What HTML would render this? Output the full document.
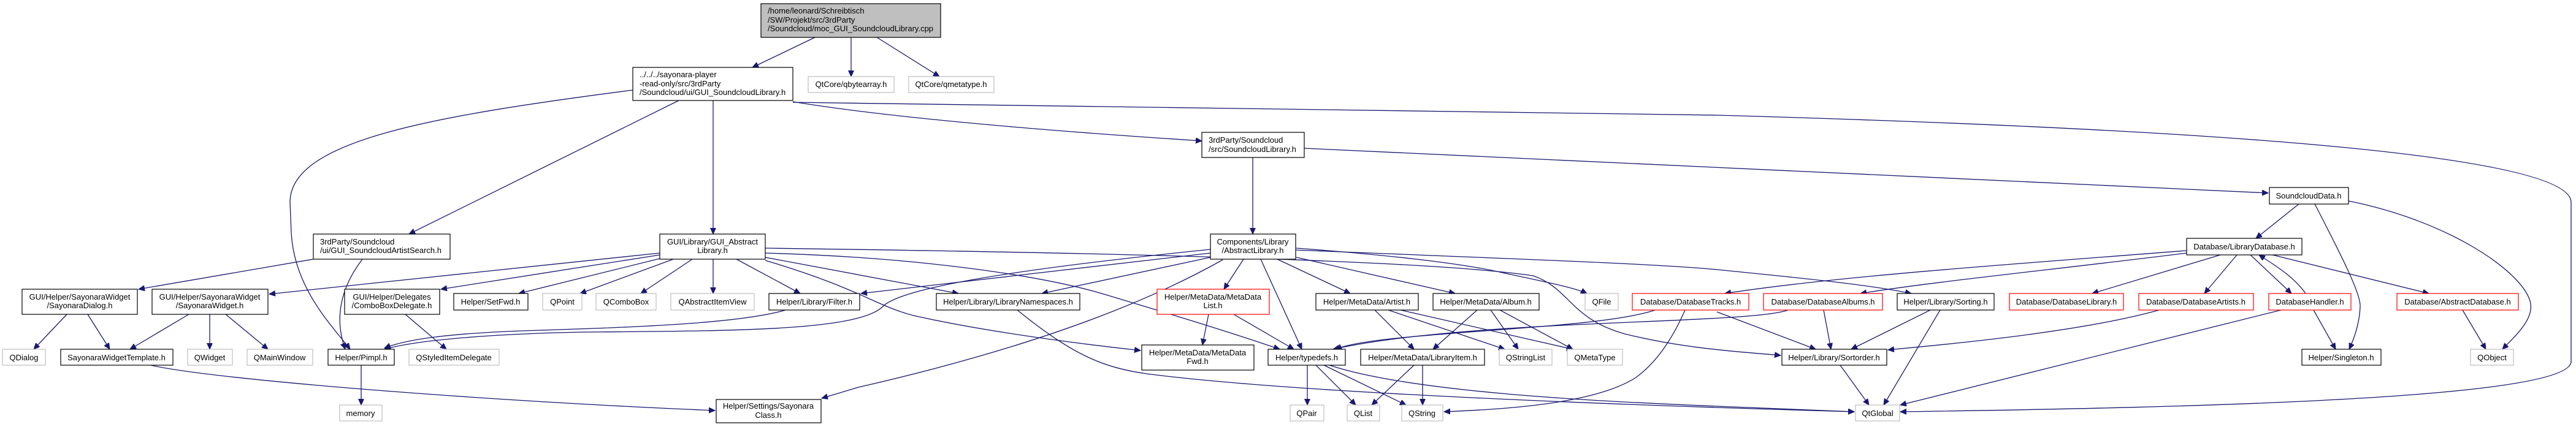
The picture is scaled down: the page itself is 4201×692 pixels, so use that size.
<!DOCTYPE html>
<html><head><meta charset="utf-8"><style>
html,body{margin:0;padding:0;background:#fff;}
svg{display:block;}
text{font-family:"Liberation Sans",Arial,sans-serif;font-size:13px;fill:#000;}
.e{fill:none;stroke:#191970;stroke-width:1.3;marker-end:url(#a);}
.n{fill:#fff;stroke:#000;stroke-width:1.2;}
.g{fill:#fff;stroke:#bfbfbf;stroke-width:1.2;}
.r{fill:#fff;stroke:#ff0000;stroke-width:1.2;}
.c{text-anchor:middle;}
</style></head><body>
<svg width="4201" height="692" viewBox="0 0 4201 692" xmlns="http://www.w3.org/2000/svg">
<defs><marker id="a" markerUnits="userSpaceOnUse" markerWidth="12" markerHeight="10" refX="10" refY="4.5" orient="auto"><path d="M0,0 L10,4.5 L0,9 z" fill="#191970" stroke="#191970"/></marker></defs>

<!-- edges -->
<path class="e" d="M1329,61 L1227,110"/>
<path class="e" d="M1388,61 L1388,125"/>
<path class="e" d="M1430,61 L1532,125"/>
<path class="e" d="M1032,147 C700,190 473,230 473,330 L475,380 C480,470 540,530 571,570"/>
<path class="e" d="M1107,164 L667,382"/>
<path class="e" d="M1163,164 L1163,382"/>
<path class="e" d="M1293,166 Q1500,200 1960,230"/>
<path class="e" d="M1293,167 C1800,175 2400,180 2800,188 C3400,205 4193,240 4193,330 L4193,590 C4193,650 3600,665 3099,672"/>
<path class="e" d="M511,423 L226,472"/>
<path class="e" d="M591,423 C555,470 545,520 563,570"/>
<path class="e" d="M1076,413 L439,480"/>
<path class="e" d="M1076,416 L719,472"/>
<path class="e" d="M1076,422 L846,479"/>
<path class="e" d="M1098,423 L946,479"/>
<path class="e" d="M1129,423 L1045,479"/>
<path class="e" d="M1163,423 L1163,479"/>
<path class="e" d="M1201,423 L1305,479"/>
<path class="e" d="M1248,420 L1563,479"/>
<path class="e" d="M1248,425 C1400,470 1430,500 1490,515 C1600,540 1750,560 1860,572"/>
<path class="e" d="M1248,413 C1500,420 1700,450 1800,480 C1900,510 2000,540 2087,570"/>
<path class="e" d="M1248,405 C1600,410 2300,420 2500,450 C2560,470 2560,520 2650,545 C2750,570 2850,575 2904,580"/>
<path class="e" d="M1994,424 Q1780,545 1400,632 L1340,650"/>
<path class="e" d="M246,596 C350,620 800,655 1166,670"/>
<path class="e" d="M1659,506 C1750,580 1800,600 1870,610 C2100,640 2600,660 3024,672"/>
<path class="e" d="M109,513 L55,570"/>
<path class="e" d="M143,513 L179,570"/>
<path class="e" d="M308,513 L212,570"/>
<path class="e" d="M342,513 L342,570"/>
<path class="e" d="M368,513 L437,570"/>
<path class="e" d="M661,513 L728,570"/>
<path class="e" d="M589,596 L589,661"/>
<path class="e" d="M1974,407 C1650,440 1470,470 1440,500 C1400,540 1200,540 950,542 C800,545 680,555 627,570"/>
<path class="e" d="M1281,506 C1200,530 1000,535 850,540 C720,545 660,555 627,568"/>
<path class="e" d="M1974,413 L1404,479"/>
<path class="e" d="M1974,420 L1699,479"/>
<path class="e" d="M2043,257 L2043,382"/>
<path class="e" d="M2127,242 Q2800,272 3699,315"/>
<path class="e" d="M3749,333 L3679,389"/>
<path class="e" d="M3775,333 C3820,420 3850,480 3849,500 C3848,530 3838,555 3831,570"/>
<path class="e" d="M3830,328 C3990,360 4110,440 4126,491 C4135,520 4100,550 4081,570"/>
<path class="e" d="M3566,409 C3300,430 3000,450 2813,479"/>
<path class="e" d="M3566,413 C3350,440 3150,460 3034,479"/>
<path class="e" d="M3621,416 L3412,479"/>
<path class="e" d="M3648,416 L3595,479"/>
<path class="e" d="M3670,416 L3737,479"/>
<path class="e" d="M3760,479 C3740,450 3705,430 3684,416"/>
<path class="e" d="M3706,416 L3961,479"/>
<path class="e" d="M2974,506 L2986,570"/>
<path class="e" d="M2916,506 C2850,530 2400,520 2174,570"/>
<path class="e" d="M2699,506 C2600,540 2250,540 2178,570"/>
<path class="e" d="M2748,506 C2720,570 2690,600 2668,616 C2600,660 2450,668 2355,672"/>
<path class="e" d="M2800,509 L2961,570"/>
<path class="e" d="M3148,506 L3019,570"/>
<path class="e" d="M3164,506 L3072,661"/>
<path class="e" d="M3521,506 C3400,540 3200,560 3079,571"/>
<path class="e" d="M3720,506 L3099,661"/>
<path class="e" d="M3773,506 L3809,570"/>
<path class="e" d="M4016,506 L4054,570"/>
<path class="e" d="M3001,596 L3048,661"/>
<path class="e" d="M2113,408 C2400,420 2700,430 2800,440 C2950,455 3050,465 3117,479"/>
<path class="e" d="M2028,423 L1996,472"/>
<path class="e" d="M2056,423 L2123,570"/>
<path class="e" d="M2083,423 L2202,479"/>
<path class="e" d="M2114,420 L2373,479"/>
<path class="e" d="M2114,405 C2250,415 2382,429 2450,445 C2520,460 2570,470 2588,479"/>
<path class="e" d="M2012,513 L2110,570"/>
<path class="e" d="M1971,513 L1961,563"/>
<path class="e" d="M2242,506 L2306,570"/>
<path class="e" d="M2264,506 L2454,570"/>
<path class="e" d="M2284,506 L2565,570"/>
<path class="e" d="M2409,506 L2337,570"/>
<path class="e" d="M2431,506 L2476,570"/>
<path class="e" d="M2446,506 L2565,570"/>
<path class="e" d="M2132,596 L2132,661"/>
<path class="e" d="M2146,596 L2211,661"/>
<path class="e" d="M2159,596 L2293,661"/>
<path class="e" d="M2306,596 L2237,661"/>
<path class="e" d="M2320,596 L2320,661"/>
<path class="e" d="M2168,596 C2300,640 2600,655 2800,663 C2900,667 2980,670 3024,672"/>

<!-- nodes -->
<rect x="1241" y="6" width="293" height="55" fill="#bfbfbf" stroke="#000" stroke-width="1.2"/>
<text x="1252" y="22">/home/leonard/Schreibtisch</text>
<text x="1252" y="37">/SW/Projekt/src/3rdParty</text>
<text x="1252" y="51">/Soundcloud/moc_GUI_SoundcloudLibrary.cpp</text>

<rect class="n" x="1032" y="110" width="261" height="54"/>
<text x="1043" y="126">../../../sayonara-player</text>
<text x="1043" y="141">-read-only/src/3rdParty</text>
<text x="1043" y="155">/Soundcloud/ui/GUI_SoundcloudLibrary.h</text>

<rect class="g" x="1318" y="125" width="140" height="26"/><text class="c" x="1388" y="142">QtCore/qbytearray.h</text>
<rect class="g" x="1482" y="125" width="139" height="26"/><text class="c" x="1551" y="142">QtCore/qmetatype.h</text>

<rect class="n" x="1960" y="216" width="167" height="41"/>
<text x="1971" y="233">3rdParty/Soundcloud</text>
<text x="1971" y="248">/src/SoundcloudLibrary.h</text>

<rect class="n" x="3701" y="306" width="129" height="27"/><text class="c" x="3765" y="324">SoundcloudData.h</text>

<rect class="n" x="511" y="382" width="223" height="41"/>
<text x="522" y="399">3rdParty/Soundcloud</text>
<text x="522" y="413">/ui/GUI_SoundcloudArtistSearch.h</text>

<rect class="n" x="1076" y="382" width="172" height="41"/>
<text class="c" x="1162" y="399">GUI/Library/GUI_Abstract</text>
<text class="c" x="1162" y="413">Library.h</text>

<rect class="n" x="1974" y="382" width="139" height="41"/>
<text class="c" x="2043" y="399">Components/Library</text>
<text class="c" x="2043" y="413">/AbstractLibrary.h</text>

<rect class="n" x="3566" y="389" width="188" height="27"/><text class="c" x="3660" y="407">Database/LibraryDatabase.h</text>

<rect class="n" x="36" y="472" width="188" height="41"/>
<text class="c" x="130" y="489">GUI/Helper/SayonaraWidget</text>
<text class="c" x="130" y="503">/SayonaraDialog.h</text>
<rect class="n" x="248" y="472" width="189" height="41"/>
<text class="c" x="342" y="489">GUI/Helper/SayonaraWidget</text>
<text class="c" x="342" y="503">/SayonaraWidget.h</text>
<rect class="n" x="562" y="472" width="155" height="41"/>
<text class="c" x="639" y="489">GUI/Helper/Delegates</text>
<text class="c" x="639" y="503">/ComboBoxDelegate.h</text>
<rect class="r" x="1887" y="472" width="183" height="41"/>
<text class="c" x="1978" y="489">Helper/MetaData/MetaData</text>
<text class="c" x="1978" y="503">List.h</text>

<rect class="n" x="740" y="479" width="121" height="27"/><text class="c" x="800" y="497">Helper/SetFwd.h</text>
<rect class="g" x="885" y="479" width="64" height="27"/><text class="c" x="917" y="497">QPoint</text>
<rect class="g" x="972" y="479" width="98" height="27"/><text class="c" x="1021" y="497">QComboBox</text>
<rect class="g" x="1094" y="479" width="136" height="27"/><text class="c" x="1162" y="497">QAbstractItemView</text>
<rect class="n" x="1254" y="479" width="148" height="27"/><text class="c" x="1328" y="497">Helper/Library/Filter.h</text>
<rect class="n" x="1527" y="479" width="234" height="27"/><text class="c" x="1644" y="497">Helper/Library/LibraryNamespaces.h</text>
<rect class="n" x="2146" y="479" width="167" height="27"/><text class="c" x="2229" y="497">Helper/MetaData/Artist.h</text>
<rect class="n" x="2337" y="479" width="173" height="27"/><text class="c" x="2423" y="497">Helper/MetaData/Album.h</text>
<rect class="g" x="2585" y="479" width="54" height="27"/><text class="c" x="2612" y="497">QFile</text>
<rect class="r" x="2662" y="479" width="190" height="27"/><text class="c" x="2757" y="497">Database/DatabaseTracks.h</text>
<rect class="r" x="2876" y="479" width="194" height="27"/><text class="c" x="2973" y="497">Database/DatabaseAlbums.h</text>
<rect class="n" x="3094" y="479" width="158" height="27"/><text class="c" x="3173" y="497">Helper/Library/Sorting.h</text>
<rect class="r" x="3277" y="479" width="186" height="27"/><text class="c" x="3370" y="497">Database/DatabaseLibrary.h</text>
<rect class="r" x="3488" y="479" width="187" height="27"/><text class="c" x="3581" y="497">Database/DatabaseArtists.h</text>
<rect class="r" x="3700" y="479" width="134" height="27"/><text class="c" x="3767" y="497">DatabaseHandler.h</text>
<rect class="r" x="3909" y="479" width="198" height="27"/><text class="c" x="4008" y="497">Database/AbstractDatabase.h</text>

<rect class="n" x="1862" y="563" width="183" height="41"/>
<text class="c" x="1953" y="580">Helper/MetaData/MetaData</text>
<text class="c" x="1953" y="594">Fwd.h</text>

<rect class="g" x="4" y="570" width="70" height="26"/><text class="c" x="39" y="588">QDialog</text>
<rect class="n" x="99" y="570" width="183" height="26"/><text class="c" x="190" y="588">SayonaraWidgetTemplate.h</text>
<rect class="g" x="306" y="570" width="73" height="26"/><text class="c" x="342" y="588">QWidget</text>
<rect class="g" x="403" y="570" width="107" height="26"/><text class="c" x="456" y="588">QMainWindow</text>
<rect class="n" x="535" y="570" width="108" height="26"/><text class="c" x="589" y="588">Helper/Pimpl.h</text>
<rect class="g" x="667" y="570" width="147" height="26"/><text class="c" x="740" y="588">QStyledItemDelegate</text>
<rect class="n" x="2068" y="570" width="126" height="26"/><text class="c" x="2131" y="588">Helper/typedefs.h</text>
<rect class="n" x="2219" y="570" width="202" height="26"/><text class="c" x="2320" y="588">Helper/MetaData/LibraryItem.h</text>
<rect class="g" x="2445" y="570" width="86" height="26"/><text class="c" x="2488" y="588">QStringList</text>
<rect class="g" x="2556" y="570" width="90" height="26"/><text class="c" x="2601" y="588">QMetaType</text>
<rect class="n" x="2906" y="570" width="171" height="26"/><text class="c" x="2991" y="588">Helper/Library/Sortorder.h</text>
<rect class="n" x="3754" y="570" width="129" height="26"/><text class="c" x="3818" y="588">Helper/Singleton.h</text>
<rect class="g" x="4029" y="570" width="70" height="26"/><text class="c" x="4064" y="588">QObject</text>

<rect class="g" x="554" y="661" width="69" height="26"/><text class="c" x="588" y="679">memory</text>
<rect class="n" x="1168" y="652" width="171" height="38"/>
<text class="c" x="1253" y="667">Helper/Settings/Sayonara</text>
<text class="c" x="1253" y="682">Class.h</text>
<rect class="g" x="2104" y="661" width="55" height="26"/><text class="c" x="2131" y="679">QPair</text>
<rect class="g" x="2197" y="661" width="53" height="26"/><text class="c" x="2223" y="679">QList</text>
<rect class="g" x="2286" y="661" width="67" height="26"/><text class="c" x="2319" y="679">QString</text>
<rect class="g" x="3026" y="661" width="72" height="26"/><text class="c" x="3062" y="679">QtGlobal</text>
</svg>
</body></html>
